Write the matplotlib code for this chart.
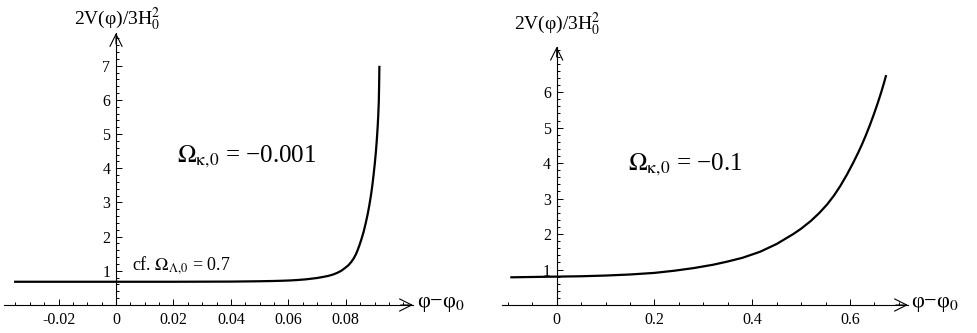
import matplotlib
matplotlib.use('Agg')
import matplotlib.pyplot as plt
from matplotlib.ticker import MultipleLocator, FixedLocator

plt.rcParams['font.family'] = ['Liberation Serif', 'DejaVu Serif']
plt.rcParams['mathtext.fontset'] = 'stix'

# Omega_k = -0.001 panel
x_left = [-0.0355, -0.02, 0.0, 0.02, 0.04, 0.05, 0.055, 0.058, 0.061, 0.0634, 0.066, 0.068,
          0.070, 0.072, 0.0738, 0.0755, 0.0770, 0.0784, 0.0797, 0.081, 0.082, 0.0828,
          0.0835, 0.0841, 0.0848, 0.0855, 0.0862, 0.0869, 0.0876, 0.0882, 0.0888,
          0.0893, 0.0897, 0.0901, 0.0905, 0.0908, 0.0911, 0.0913, 0.0915, 0.0916, 0.0917]
y_left = [0.68, 0.68, 0.68, 0.68, 0.685, 0.695, 0.703, 0.71, 0.72, 0.733, 0.75, 0.77,
          0.79, 0.82, 0.85, 0.89, 0.94, 1.00, 1.08, 1.17, 1.27, 1.37,
          1.48, 1.60, 1.76, 1.94, 2.14, 2.38, 2.65, 2.92, 3.23,
          3.54, 3.83, 4.14, 4.50, 4.83, 5.22, 5.54, 5.98, 6.40, 7.0]

# Omega_k = -0.1 panel
x_right = [-0.095, -0.05, 0.0, 0.05, 0.1, 0.15, 0.2, 0.24, 0.28, 0.32, 0.348, 0.38,
           0.416, 0.45, 0.484, 0.50, 0.52, 0.537, 0.553, 0.567, 0.58, 0.594, 0.607,
           0.617, 0.625, 0.633, 0.641, 0.649, 0.657, 0.664, 0.670, 0.674]
y_right = [0.78, 0.79, 0.80, 0.81, 0.83, 0.86, 0.905, 0.965, 1.04, 1.135, 1.22, 1.33,
           1.50, 1.72, 2.00, 2.15, 2.37, 2.59, 2.83, 3.08, 3.35, 3.68, 4.02,
           4.30, 4.54, 4.80, 5.08, 5.38, 5.70, 6.00, 6.28, 6.48]

W, H = 977, 333
fig = plt.figure(figsize=(W / 100, H / 100), dpi=100)


def make_axes(rect, xlim, ylim, xmajor, xminor, ymajor, xlabels):
    ax = fig.add_axes(rect)
    ax.set_xlim(*xlim)
    ax.set_ylim(*ylim)
    for s in ['top', 'right']:
        ax.spines[s].set_visible(False)
    ax.spines['left'].set_position(('data', 0))
    ax.spines['bottom'].set_position(('data', 0))
    ax.spines['left'].set_linewidth(0.8)
    ax.spines['bottom'].set_linewidth(0.8)
    ax.xaxis.set_major_locator(FixedLocator(xmajor))
    ax.set_xticklabels(xlabels)
    ax.xaxis.set_minor_locator(MultipleLocator(xminor))
    ax.yaxis.set_major_locator(FixedLocator(ymajor))
    ax.set_yticklabels([str(v) for v in ymajor])
    ax.yaxis.set_minor_locator(MultipleLocator(0.2))
    ax.tick_params(which='both', direction='in', width=0.7, labelsize=11.5)
    ax.tick_params(which='major', length=4.5)
    ax.tick_params(which='minor', length=2.5)
    ax.tick_params(axis='x', pad=5)
    ax.tick_params(axis='y', pad=4)
    # open arrowheads at the ends of the axes
    ax.annotate('', xy=(1, 0), xycoords=('axes fraction', 'data'),
                xytext=(0.97, 0), textcoords=('axes fraction', 'data'),
                arrowprops=dict(arrowstyle='->', lw=0.8, mutation_scale=22, shrinkA=0, shrinkB=0))
    ax.annotate('', xy=(0, 1), xycoords=('data', 'axes fraction'),
                xytext=(0, 0.96), textcoords=('data', 'axes fraction'),
                arrowprops=dict(arrowstyle='->', lw=0.8, mutation_scale=22, shrinkA=0, shrinkB=0))
    ax.patch.set_visible(False)
    return ax


# left panel
ax1 = make_axes([4 / W, 28 / H, 409 / W, 272 / H], (-0.039, 0.1034), (0, 7.96),
                [-0.02, 0, 0.02, 0.04, 0.06, 0.08], 0.005, [1, 2, 3, 4, 5, 6, 7],
                ['-0.02', '0', '0.02', '0.04', '0.06', '0.08'])
ax1.plot(x_left, y_left, color='black', lw=1.6, solid_capstyle='butt', solid_joinstyle='round')
ax1.text(0.02125, 4.33, '$\\Omega_{\\mathrm{\\kappa}{,}0}$ = \u22120.001', fontsize=18,
         va='center', ha='left')
ax1.text(0.0056, 1.17, 'cf. $\\Omega_{\\Lambda{,}0}$ = 0.7', fontsize=13, va='center', ha='left')

# right panel
ax2 = make_axes([501.7 / W, 28 / H, 406.3 / W, 258.3 / H], (-0.1125, 0.7187), (0, 7.28),
                [0, 0.2, 0.4, 0.6], 0.05, [1, 2, 3, 4, 5, 6],
                ['0', '0.2', '0.4', '0.6'])
ax2.plot(x_right, y_right, color='black', lw=1.6, solid_capstyle='butt', solid_joinstyle='round')
ax2.text(0.146, 3.95, '$\\Omega_{\\mathrm{\\kappa}{,}0}$ = \u22120.1', fontsize=18,
         va='center', ha='left')

# axis labels
ylab = '2V(\u03c6)/3H$_0^2$'
xlab = '\u03c6\u2212\u03c6$_0$'
fig.text(117 / W, 1 - 19 / H, ylab, fontsize=14, ha='center', va='center')
fig.text(557 / W, 1 - 24 / H, ylab, fontsize=14, ha='center', va='center')
fig.text(417 / W, 1 - 304 / H, xlab, fontsize=16, ha='left', va='center')
fig.text(911 / W, 1 - 304 / H, xlab, fontsize=16, ha='left', va='center')

fig.savefig('out.png', dpi=100)
